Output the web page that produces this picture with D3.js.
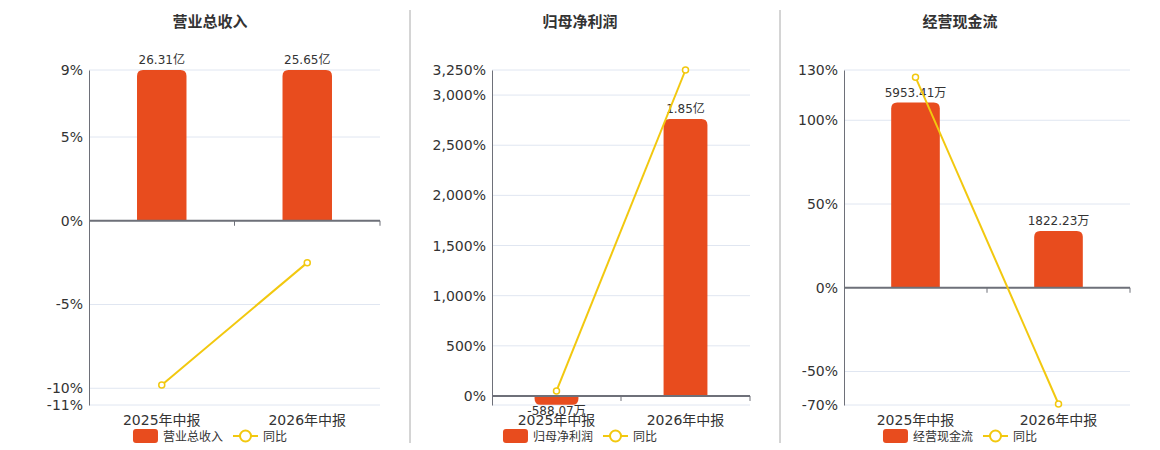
<!DOCTYPE html>
<html>
<head>
<meta charset="utf-8">
<script src="https://cdn.jsdelivr.net/npm/d3@7"></script>
<style>
body { margin: 0; background: #fff; }
text { font-family: "DejaVu Sans", "Noto Sans CJK SC", sans-serif; fill: #333; }
</style>
</head>
<body>
<svg id="chart" width="1160" height="450"></svg>
<script>
const categories = ["2025年中报", "2026年中报"];

const revenueValues = [26.31, 25.65];
const revenueLabels = ["26.31亿", "25.65亿"];
const revenueYoY = [-9.8, -2.5];
const revenueTicks = [-11, -10, -5, 0, 5, 9];

const profitValues = [-588.07, 18500];
const profitLabels = ["-588.07万", "1.85亿"];
const profitYoY = [50, 3250];
const profitTicks = [0, 500, 1000, 1500, 2000, 2500, 3000, 3250];

const cashValues = [5953.41, 1822.23];
const cashLabels = ["5953.41万", "1822.23万"];
const cashYoY = [125.7, -69.4];
const cashTicks = [-70, -50, 0, 50, 100, 130];

const barColor = "#e84c1e";
const lineColor = "#f2c80f";
const plotTop = 70, plotBottom = 405;

const svg = d3.select("#chart");

// separators between the three panels
[410, 780].forEach(sx => {
    svg.append("line")
        .attr("x1", sx).attr("x2", sx)
        .attr("y1", 10).attr("y2", 443)
        .attr("stroke", "#aaa");
});

function barPath(x0, w, y0, y1, r) {
    // rounded at the outer end (y1)
    const h = Math.abs(y1 - y0);
    r = Math.min(r, h, w / 2);
    if (y1 <= y0) {
        return "M" + x0 + "," + y0 + "V" + (y1 + r) +
            "Q" + x0 + "," + y1 + " " + (x0 + r) + "," + y1 +
            "H" + (x0 + w - r) +
            "Q" + (x0 + w) + "," + y1 + " " + (x0 + w) + "," + (y1 + r) +
            "V" + y0 + "Z";
    }
    return "M" + x0 + "," + y0 + "V" + (y1 - r) +
        "Q" + x0 + "," + y1 + " " + (x0 + r) + "," + y1 +
        "H" + (x0 + w - r) +
        "Q" + (x0 + w) + "," + y1 + " " + (x0 + w) + "," + (y1 - r) +
        "V" + y0 + "Z";
}

const fmt = d3.format(",");

function drawPanel(p) {
    const g = svg.append("g");
    const y = d3.scaleLinear().domain([p.yMin, p.yMax]).range([plotBottom, plotTop]);
    const yBar = d3.scaleLinear()
        .domain([p.barMax * p.yMin / p.yMax, p.barMax])
        .range([plotBottom, plotTop])
        .clamp(true);
    const x = d3.scaleBand().domain(categories).range([p.left, p.right]);
    const bw = x.bandwidth() * 0.34;
    const cx = d => x(d) + x.bandwidth() / 2;

    g.append("text")
        .attr("x", p.center).attr("y", 27)
        .attr("text-anchor", "middle")
        .attr("font-size", 15).attr("font-weight", "bold")
        .text(p.title);

    // grid
    const gridVals = Array.from(new Set(p.ticks.concat([p.yMin])));
    g.selectAll(".grid").data(gridVals).enter().append("line")
        .attr("x1", p.left).attr("x2", p.right)
        .attr("y1", d => y(d)).attr("y2", d => y(d))
        .attr("stroke", "#e0e6f1");

    // y axis
    const ya = g.append("g")
        .attr("transform", "translate(" + p.left + ",0)")
        .call(d3.axisLeft(y).tickValues(p.ticks).tickSize(0).tickSizeOuter(0).tickPadding(6)
            .tickFormat(d => fmt(d).replace("\u2212", "-") + "%"));
    ya.select(".domain").attr("stroke", "#6e7079");
    ya.selectAll("text").attr("font-size", 14).attr("fill", "#333")
        .style("font-family", "\"DejaVu Sans\", sans-serif");

    // bars
    g.selectAll(".bar").data(p.values).enter().append("path")
        .attr("fill", barColor)
        .attr("d", (v, i) => barPath(cx(categories[i]) - bw / 2, bw, y(0), yBar(v), 6));

    g.selectAll(".blabel").data(p.values).enter().append("text")
        .attr("x", (v, i) => cx(categories[i]))
        .attr("y", v => v >= 0 ? yBar(v) - 6 : yBar(v) + 10)
        .attr("text-anchor", "middle")
        .attr("font-size", 12)
        .text((v, i) => p.labels[i]);

    // zero axis with band ticks
    g.append("line")
        .attr("x1", p.left).attr("x2", p.right)
        .attr("y1", y(0)).attr("y2", y(0))
        .attr("stroke", "#6e7079").attr("stroke-width", 2);
    g.selectAll(".xtick").data(categories).enter().append("line")
        .attr("x1", d => x(d) + x.bandwidth()).attr("x2", d => x(d) + x.bandwidth())
        .attr("y1", y(0)).attr("y2", y(0) + 5)
        .attr("stroke", "#6e7079");

    g.selectAll(".xlabel").data(categories).enter().append("text")
        .attr("x", d => cx(d)).attr("y", plotBottom + 20)
        .attr("text-anchor", "middle")
        .attr("font-size", 14)
        .text(d => d);

    // yoy line
    const line = d3.line()
        .x((v, i) => cx(categories[i]))
        .y(v => y(v));
    g.append("path").datum(p.yoy)
        .attr("fill", "none").attr("stroke", lineColor).attr("stroke-width", 2)
        .attr("d", line);
    g.selectAll(".pt").data(p.yoy).enter().append("circle")
        .attr("cx", (v, i) => cx(categories[i])).attr("cy", v => y(v))
        .attr("r", 3).attr("fill", "#fff")
        .attr("stroke", lineColor).attr("stroke-width", 1.5);

    // legend
    const lg = g.append("g");
    lg.append("rect").attr("x", 0).attr("y", -7).attr("width", 25).attr("height", 14)
        .attr("rx", 3).attr("fill", barColor);
    const t1 = lg.append("text").attr("x", 30).attr("y", 4.5)
        .attr("font-size", 12).text(p.title);
    const w1 = t1.node().getComputedTextLength();
    const lx = 30 + w1 + 10;
    lg.append("line").attr("x1", lx).attr("x2", lx + 25).attr("y1", 0).attr("y2", 0)
        .attr("stroke", lineColor).attr("stroke-width", 2);
    lg.append("circle").attr("cx", lx + 12.5).attr("cy", 0).attr("r", 5.5)
        .attr("fill", "#fff").attr("stroke", lineColor).attr("stroke-width", 2);
    const t2 = lg.append("text").attr("x", lx + 30).attr("y", 4.5)
        .attr("font-size", 12).text("同比");
    const total = lx + 30 + t2.node().getComputedTextLength();
    lg.attr("transform", "translate(" + (p.center - total / 2) + ",436)");
}

drawPanel({
    title: "营业总收入", values: revenueValues, labels: revenueLabels, yoy: revenueYoY,
    ticks: revenueTicks, yMin: -11, yMax: 9, barMax: 24,
    left: 89, right: 380, center: 210
});
drawPanel({
    title: "归母净利润", values: profitValues, labels: profitLabels, yoy: profitYoY,
    ticks: profitTicks, yMin: -90, yMax: 3250, barMax: 21780,
    left: 492, right: 750, center: 580
});
drawPanel({
    title: "经营现金流", values: cashValues, labels: cashLabels, yoy: cashYoY,
    ticks: cashTicks, yMin: -70, yMax: 130, barMax: 7000,
    left: 844, right: 1130, center: 960
});
</script>
</body>
</html>
